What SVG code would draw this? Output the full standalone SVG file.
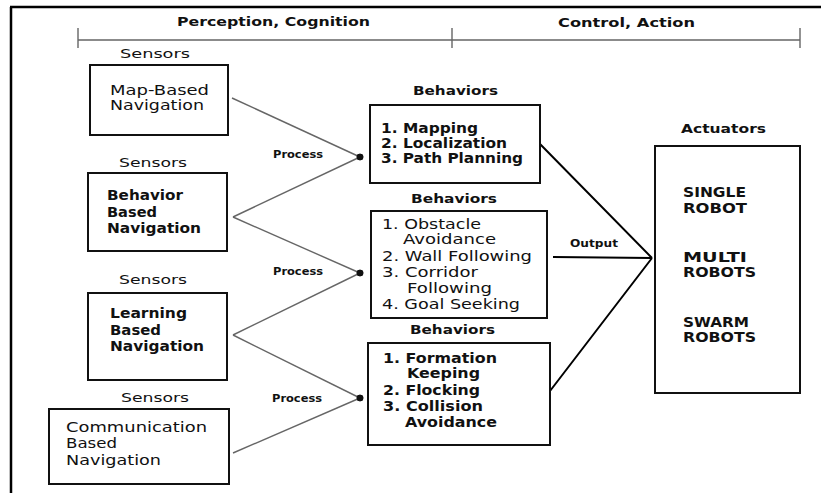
<svg xmlns="http://www.w3.org/2000/svg" width="821" height="493" viewBox="0 0 821 493">
<defs>
<style>
text{font-family:"DejaVu Sans","Liberation Sans",sans-serif;fill:#111;}
.h{font-size:12.5px;font-weight:bold;}
.s{font-size:13px;}
.t{font-size:13.5px;}
.b{font-weight:bold;}
.p{font-size:10.5px;font-weight:bold;}
.box{fill:#fff;stroke:#111;stroke-width:2;}
.thin{stroke:#666;stroke-width:1.4;fill:none;}
.out{stroke:#000;stroke-width:2;fill:none;}
</style>
<marker id="dot" viewBox="0 0 8 8" refX="4" refY="4" markerWidth="8" markerHeight="8" markerUnits="userSpaceOnUse"><circle cx="4" cy="4" r="3.3" fill="#111"/></marker>
</defs>
<rect width="821" height="493" fill="#fff"/>
<g id="frame">
<path d="M10,7 H821 M11,7 V493" stroke="#000" stroke-width="2.5" fill="none"/>
</g>
<g id="timeline">
<path d="M78,40 H800 M78,28 V48 M452,28 V48 M800,28 V48" stroke="#666" stroke-width="1.4" fill="none"/>
<text class="h" x="177" y="26" textLength="193" lengthAdjust="spacingAndGlyphs">Perception, Cognition</text>
<text class="h" x="558" y="27" textLength="137" lengthAdjust="spacingAndGlyphs">Control, Action</text>
</g>
<g id="connectors">
<path class="thin" d="M232,98 L360,157" marker-end="url(#dot)"/>
<path class="thin" d="M233,217 L360,157" marker-end="url(#dot)"/>
<path class="thin" d="M233,217 L360,273" marker-end="url(#dot)"/>
<path class="thin" d="M233,335 L360,273" marker-end="url(#dot)"/>
<path class="thin" d="M233,335 L360,398" marker-end="url(#dot)"/>
<path class="thin" d="M233,453 L360,398" marker-end="url(#dot)"/>
<text class="p" x="273" y="158" textLength="50" lengthAdjust="spacingAndGlyphs">Process</text>
<text class="p" x="273" y="275" textLength="50" lengthAdjust="spacingAndGlyphs">Process</text>
<text class="p" x="272" y="402" textLength="50" lengthAdjust="spacingAndGlyphs">Process</text>
<path class="out" d="M540,144 L652,258 M553,257 L652,258 M550,391 L652,258"/>
<text class="p" x="570" y="247" textLength="48" lengthAdjust="spacingAndGlyphs">Output</text>
</g>
<g id="sensor1">
<text class="s" x="120" y="58" textLength="70" lengthAdjust="spacingAndGlyphs">Sensors</text>
<rect class="box" x="90" y="65" width="138" height="70"/>
<text class="t" x="110" y="95" textLength="99" lengthAdjust="spacingAndGlyphs">Map-Based</text>
<text class="t" x="110" y="110" textLength="94" lengthAdjust="spacingAndGlyphs">Navigation</text>
</g>
<g id="sensor2">
<text class="s" x="119" y="167" textLength="68" lengthAdjust="spacingAndGlyphs">Sensors</text>
<rect class="box" x="88" y="173" width="139" height="78"/>
<text class="t b" x="107" y="200" textLength="76" lengthAdjust="spacingAndGlyphs">Behavior</text>
<text class="t b" x="107" y="217" textLength="50" lengthAdjust="spacingAndGlyphs">Based</text>
<text class="t b" x="107" y="233" textLength="94" lengthAdjust="spacingAndGlyphs">Navigation</text>
</g>
<g id="sensor3">
<text class="s" x="119" y="284" textLength="68" lengthAdjust="spacingAndGlyphs">Sensors</text>
<rect class="box" x="88" y="293" width="139" height="87"/>
<text class="t b" x="110" y="318" textLength="77" lengthAdjust="spacingAndGlyphs">Learning</text>
<text class="t b" x="110" y="335" textLength="51" lengthAdjust="spacingAndGlyphs">Based</text>
<text class="t b" x="110" y="351" textLength="94" lengthAdjust="spacingAndGlyphs">Navigation</text>
</g>
<g id="sensor4">
<text class="s" x="121" y="402" textLength="68" lengthAdjust="spacingAndGlyphs">Sensors</text>
<rect class="box" x="49" y="409" width="180" height="75"/>
<text class="t" x="66" y="432" textLength="141" lengthAdjust="spacingAndGlyphs">Communication</text>
<text class="t" x="66" y="448" textLength="51" lengthAdjust="spacingAndGlyphs">Based</text>
<text class="t" x="66" y="465" textLength="95" lengthAdjust="spacingAndGlyphs">Navigation</text>
</g>
<g id="behaviors1">
<text class="h" x="413" y="95" textLength="85" lengthAdjust="spacingAndGlyphs">Behaviors</text>
<rect class="box" x="370" y="105" width="170" height="78"/>
<text class="t b" x="381" y="133" textLength="97" lengthAdjust="spacingAndGlyphs">1. Mapping</text>
<text class="t b" x="381" y="148" textLength="126" lengthAdjust="spacingAndGlyphs">2. Localization</text>
<text class="t b" x="381" y="163" textLength="142" lengthAdjust="spacingAndGlyphs">3. Path Planning</text>
</g>
<g id="behaviors2">
<text class="h" x="411" y="203" textLength="86" lengthAdjust="spacingAndGlyphs">Behaviors</text>
<rect class="box" x="371" y="211" width="176" height="107"/>
<text class="t" x="382" y="229" textLength="99" lengthAdjust="spacingAndGlyphs">1. Obstacle</text>
<text class="t" x="403" y="244" textLength="93" lengthAdjust="spacingAndGlyphs">Avoidance</text>
<text class="t" x="382" y="261" textLength="150" lengthAdjust="spacingAndGlyphs">2. Wall Following</text>
<text class="t" x="382" y="277" textLength="96" lengthAdjust="spacingAndGlyphs">3. Corridor</text>
<text class="t" x="407" y="293" textLength="85" lengthAdjust="spacingAndGlyphs">Following</text>
<text class="t" x="382" y="309" textLength="138" lengthAdjust="spacingAndGlyphs">4. Goal Seeking</text>
</g>
<g id="behaviors3">
<text class="h" x="410" y="334" textLength="85" lengthAdjust="spacingAndGlyphs">Behaviors</text>
<rect class="box" x="368" y="343" width="182" height="102"/>
<text class="t b" x="383" y="363" textLength="114" lengthAdjust="spacingAndGlyphs">1. Formation</text>
<text class="t b" x="407" y="378" textLength="73" lengthAdjust="spacingAndGlyphs">Keeping</text>
<text class="t b" x="383" y="395" textLength="97" lengthAdjust="spacingAndGlyphs">2. Flocking</text>
<text class="t b" x="383" y="411" textLength="100" lengthAdjust="spacingAndGlyphs">3. Collision</text>
<text class="t b" x="405" y="427" textLength="92" lengthAdjust="spacingAndGlyphs">Avoidance</text>
</g>
<g id="actuators">
<text class="h" x="681" y="133" textLength="85" lengthAdjust="spacingAndGlyphs">Actuators</text>
<rect class="box" x="655" y="146" width="145" height="247"/>
<text class="t b" x="683" y="197" textLength="63" lengthAdjust="spacingAndGlyphs">SINGLE</text>
<text class="t b" x="683" y="213" textLength="64" lengthAdjust="spacingAndGlyphs">ROBOT</text>
<text class="t b" x="683" y="262" textLength="64" lengthAdjust="spacingAndGlyphs">MULTI</text>
<text class="t b" x="683" y="277" textLength="73" lengthAdjust="spacingAndGlyphs">ROBOTS</text>
<text class="t b" x="683" y="327" textLength="66" lengthAdjust="spacingAndGlyphs">SWARM</text>
<text class="t b" x="683" y="342" textLength="73" lengthAdjust="spacingAndGlyphs">ROBOTS</text>
</g>
</svg>
